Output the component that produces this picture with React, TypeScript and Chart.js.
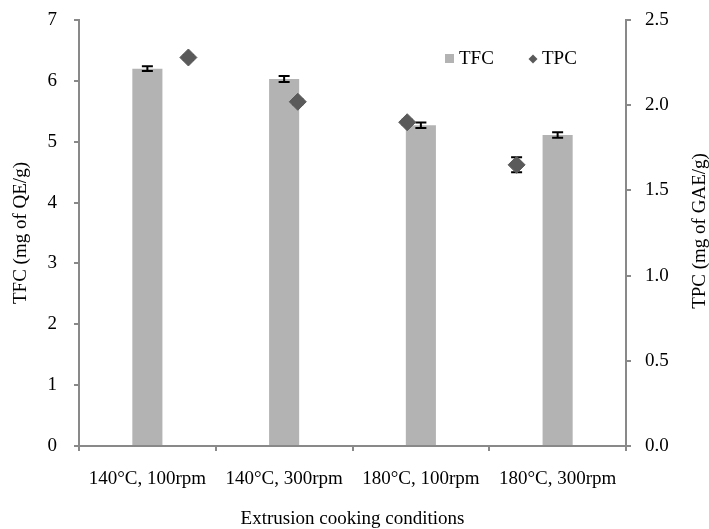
import React, { useEffect, useRef } from "react";
import { Chart, registerables } from "chart.js";

Chart.register(...registerables);

const CATEGORIES = ["140°C, 100rpm", "140°C, 300rpm", "180°C, 100rpm", "180°C, 300rpm"];
const TFC = [6.2, 6.03, 5.27, 5.11];
const TFC_ERR = [0.04, 0.05, 0.045, 0.045];
const TPC_X = [1, 2, 3, 4];
const TPC = [2.28, 2.02, 1.9, 1.65];
const TPC_ERR = [0.015, 0.015, 0.015, 0.044];

const SERIES_NAMES = ["TFC", "TPC"];
const Y_TITLE = "TFC (mg of QE/g)";
const Y2_TITLE = "TPC (mg of GAE/g)";
const X_TITLE = "Extrusion cooking conditions";

const FONT_FAMILY = "'Liberation Serif', 'Times New Roman', serif";
const FONT = `19px ${FONT_FAMILY}`;
const BAR_COLOR = "#b3b3b3";
const DOT_COLOR = "#5a5a5a";
const AXIS_COLOR = "#898989";

function drawErr(chart: any, meta: any, vals: number[], errs: number[], scale: any) {
  const ctx = chart.ctx;
  ctx.save();
  ctx.strokeStyle = "#000";
  ctx.lineWidth = 2;
  meta.data.forEach((el: any, i: number) => {
    const x = el.x;
    const yt = scale.getPixelForValue(vals[i] + errs[i]);
    const yb = scale.getPixelForValue(vals[i] - errs[i]);
    ctx.beginPath();
    ctx.moveTo(x, yt);
    ctx.lineTo(x, yb);
    ctx.moveTo(x - 5.5, yt);
    ctx.lineTo(x + 5.5, yt);
    ctx.moveTo(x - 5.5, yb);
    ctx.lineTo(x + 5.5, yb);
    ctx.stroke();
  });
  ctx.restore();
}

const errorBars = {
  id: "errorBars",
  afterDatasetDraw(chart: any, args: any) {
    if (args.index === 0) drawErr(chart, args.meta, TFC, TFC_ERR, chart.scales.y);
  },
  beforeDatasetDraw(chart: any, args: any) {
    if (args.index === 1) drawErr(chart, args.meta, TPC, TPC_ERR, chart.scales.y2);
  },
};

const decorations = {
  id: "decorations",
  afterDraw(chart: any) {
    const ctx = chart.ctx;
    const area = chart.chartArea;
    const cy = (area.top + area.bottom) / 2;
    ctx.save();
    ctx.font = FONT;
    ctx.fillStyle = "#000";
    ctx.textBaseline = "middle";
    ctx.textAlign = "center";
    // left title
    ctx.save();
    ctx.translate(21, cy);
    ctx.rotate(-Math.PI / 2);
    ctx.fillText(Y_TITLE, 0, 0);
    ctx.restore();
    // right title
    ctx.save();
    ctx.translate(700, cy - 2);
    ctx.rotate(-Math.PI / 2);
    ctx.fillText(Y2_TITLE, 0, 0);
    ctx.restore();
    // x title
    ctx.fillText(X_TITLE, (area.left + area.right) / 2, 519);
    // legend
    ctx.textAlign = "left";
    ctx.fillStyle = BAR_COLOR;
    ctx.fillRect(445, 54, 9, 9);
    ctx.fillStyle = "#000";
    ctx.fillText(SERIES_NAMES[0], 459, 59);
    ctx.fillStyle = DOT_COLOR;
    ctx.beginPath();
    ctx.moveTo(533, 54.5);
    ctx.lineTo(537.5, 59);
    ctx.lineTo(533, 63.5);
    ctx.lineTo(528.5, 59);
    ctx.closePath();
    ctx.fill();
    ctx.fillStyle = "#000";
    ctx.fillText(SERIES_NAMES[1], 542, 59);
    ctx.restore();
  },
};

export default function App() {
  const ref = useRef<HTMLCanvasElement>(null);
  useEffect(() => {
    if (!ref.current) return;
    Chart.defaults.font.family = FONT_FAMILY;
    Chart.defaults.font.size = 19;
    Chart.defaults.color = "#000";
    const chart = new Chart(ref.current, {
      type: "bar",
      data: {
        labels: CATEGORIES,
        datasets: [
          {
            type: "bar",
            label: SERIES_NAMES[0],
            data: TFC,
            backgroundColor: BAR_COLOR,
            xAxisID: "x",
            yAxisID: "y",
            grouped: false,
            barPercentage: 0.22,
            categoryPercentage: 1,
            order: 1,
          } as any,
          {
            type: "scatter",
            label: SERIES_NAMES[1],
            data: TPC_X.map((x, i) => ({ x, y: TPC[i] })),
            backgroundColor: DOT_COLOR,
            borderColor: DOT_COLOR,
            borderWidth: 1,
            pointStyle: "rectRot",
            pointRadius: 8.5,
            xAxisID: "x2",
            yAxisID: "y2",
            order: 0,
          } as any,
        ],
      },
      options: {
        responsive: false,
        animation: false,
        events: [],
        devicePixelRatio: 1,
        layout: { padding: { top: 20, left: 0, right: 0, bottom: 0 } },
        plugins: {
          legend: { display: false },
          tooltip: { enabled: false },
          title: { display: false },
        },
        scales: {
          x: {
            type: "category",
            position: "bottom",
            offset: true,
            grid: {
              offset: true,
              drawOnChartArea: false,
              drawTicks: true,
              tickLength: 5,
              color: AXIS_COLOR,
              lineWidth: 2,
            },
            border: { display: true, color: AXIS_COLOR, width: 2 },
            ticks: { padding: 17, maxRotation: 0, autoSkip: false, color: "#000" },
            afterFit: (s: any) => {
              s.height = 83;
              s.paddingLeft = 0;
              s.paddingRight = 0;
            },
          },
          x2: {
            type: "linear",
            display: false,
            offset: false,
            min: 0,
            max: 5,
          },
          y: {
            type: "linear",
            position: "left",
            min: 0,
            max: 7,
            ticks: { stepSize: 1, padding: 17, color: "#000" },
            grid: {
              drawOnChartArea: false,
              drawTicks: true,
              tickLength: 5,
              color: AXIS_COLOR,
              lineWidth: 2,
            },
            border: { display: true, color: AXIS_COLOR, width: 2 },
            afterFit: (s: any) => {
              s.width = 79;
              s.paddingTop = 0;
              s.paddingBottom = 0;
            },
          },
          y2: {
            type: "linear",
            position: "right",
            min: 0,
            max: 2.5,
            ticks: {
              stepSize: 0.5,
              padding: 14,
              color: "#000",
              callback: (v: any) => Number(v).toFixed(1),
            },
            grid: {
              drawOnChartArea: false,
              drawTicks: true,
              tickLength: 5,
              color: AXIS_COLOR,
              lineWidth: 2,
            },
            border: { display: true, color: AXIS_COLOR, width: 2 },
            afterFit: (s: any) => {
              s.width = 83;
              s.paddingTop = 0;
              s.paddingBottom = 0;
            },
          },
        },
      },
      plugins: [errorBars, decorations],
    } as any);
    return () => chart.destroy();
  }, []);
  return (
    <div style={{ position: "fixed", left: 0, top: 0, width: 709, height: 529, background: "#fff" }}>
      <canvas ref={ref} width={709} height={529} style={{ width: 709, height: 529 }} />
    </div>
  );
}
